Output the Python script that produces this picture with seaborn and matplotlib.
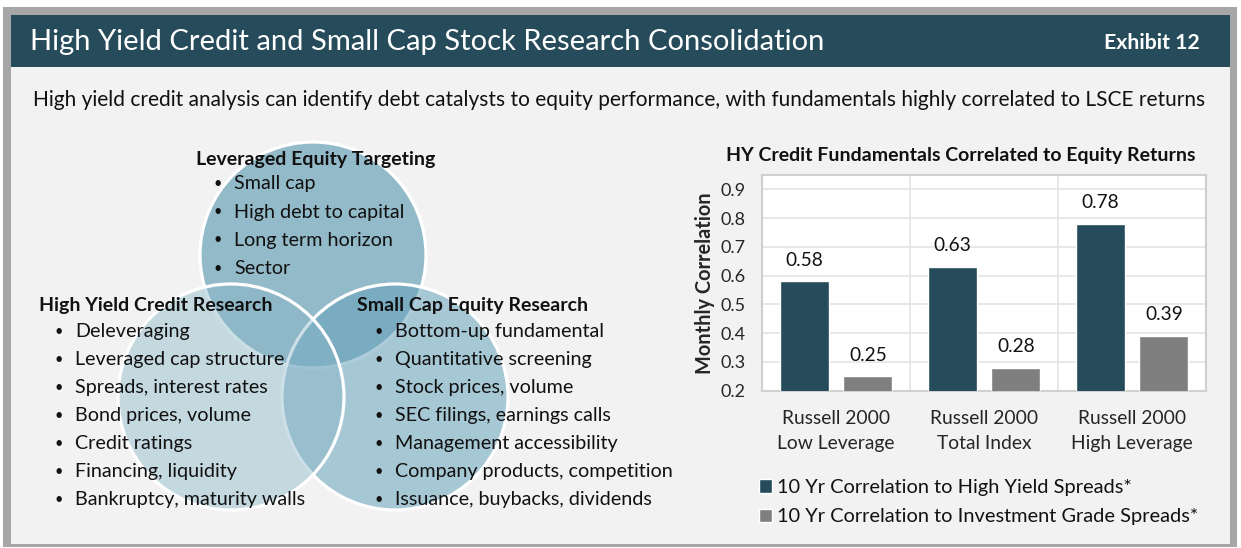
import pandas as pd
import matplotlib.pyplot as plt
import seaborn as sns
from matplotlib.patches import Rectangle, Circle

# Data
categories = ["Russell 2000\nLow Leverage", "Russell 2000\nTotal Index", "Russell 2000\nHigh Leverage"]
series_names = ["10 Yr Correlation to High Yield Spreads*",
                "10 Yr Correlation to Investment Grade Spreads*"]
hy_corr = [0.58, 0.63, 0.78]
ig_corr = [0.25, 0.28, 0.39]
y_ticks = [0.2, 0.3, 0.4, 0.5, 0.6, 0.7, 0.8, 0.9]

title = "High Yield Credit and Small Cap Stock Research Consolidation"
exhibit = "Exhibit 12"
subtitle = ("High yield credit analysis can identify debt catalysts to equity performance, "
            "with fundamentals highly correlated to LSCE returns")
chart_title = "HY Credit Fundamentals Correlated to Equity Returns"

venn_titles = ["Leveraged Equity Targeting", "High Yield Credit Research", "Small Cap Equity Research"]
targeting_items = ["Small cap", "High debt to capital", "Long term horizon", "Sector"]
credit_items = ["Deleveraging", "Leveraged cap structure", "Spreads, interest rates",
                "Bond prices, volume", "Credit ratings", "Financing, liquidity",
                "Bankruptcy, maturity walls"]
equity_items = ["Bottom-up fundamental", "Quantitative screening", "Stock prices, volume",
                "SEC filings, earnings calls", "Management accessibility",
                "Company products, competition", "Issuance, buybacks, dividends"]

df = pd.DataFrame({
    "category": categories * 2,
    "series": [series_names[0]] * 3 + [series_names[1]] * 3,
    "value": hy_corr + ig_corr,
})

DARK = "#264b5a"
GRAY = "#7f7f7f"
BG = "#f2f2f2"

sns.set_theme(style="white")
plt.rcParams["font.family"] = ["Lato", "DejaVu Sans"]
plt.rcParams["text.color"] = "#111111"

W, H = 1241, 548
fig = plt.figure(figsize=(W / 100, H / 100), dpi=100)
fig.patch.set_facecolor("white")

# background canvas in pixel coordinates
bg = fig.add_axes([0, 0, 1, 1], zorder=0)
bg.set_xlim(0, W)
bg.set_ylim(H, 0)
bg.axis("off")

bg.add_patch(Rectangle((3, 7), 1234, 540, fc="#a6a6a6", ec="none"))
bg.add_patch(Rectangle((11, 15), 1219, 529, fc=BG, ec="none"))
bg.add_patch(Rectangle((11, 15), 1219, 52, fc=DARK, ec="none"))

bg.text(30, 42, title, color="white", fontsize=21, va="center", ha="left")
bg.text(1200, 43, exhibit, color="white", fontsize=15.3, fontweight="bold", va="center", ha="right")
bg.text(33, 100, subtitle, fontsize=15, va="center", ha="left")

# venn circles
r = 113
bg.add_patch(Circle((313, 255), r, fc="#93bac9", ec="white", lw=2.3))
bg.add_patch(Circle((395, 397), r, fc=(100 / 255, 161 / 255, 186 / 255, 0.53), ec="white", lw=2.3))
bg.add_patch(Circle((231, 397), r, fc=(137 / 255, 182 / 255, 200 / 255, 0.43), ec="white", lw=2.3))

bg.text(316, 159, venn_titles[0], fontsize=14, fontweight="bold", ha="center", va="center")
bg.text(39, 305, venn_titles[1], fontsize=14, fontweight="bold", ha="left", va="center")
bg.text(357, 305, venn_titles[2], fontsize=14, fontweight="bold", ha="left", va="center")

def bullets(items, x, y0, step):
    for i, item in enumerate(items):
        y = y0 + i * step
        bg.text(x, y, "\u2022", fontsize=10.5, ha="center", va="center")
        bg.text(x + 16, y, item, fontsize=14.2, ha="left", va="center")

bullets(targeting_items, 218, 184, 28.2)
bullets(credit_items, 59, 332, 28.0)
bullets(equity_items, 379, 332, 28.0)

# bar chart
ax = fig.add_axes([762 / W, 1 - 390.5 / H, 444 / W, 215.5 / H], zorder=2)
sns.barplot(data=df, x="category", y="value", hue="series", palette=[DARK, GRAY],
            width=0.86, gap=0.23, saturation=1, ax=ax, zorder=3)
ax.set_facecolor("white")
ax.set_ylim(0.2, 0.95)
ax.set_yticks(y_ticks)
ax.set_yticklabels([f"{v:.1f}" for v in y_ticks])
ax.yaxis.grid(True, color="#e4e4e4", lw=1.2, zorder=0)
for xv in [0.5, 1.5]:
    ax.axvline(xv, color="#e4e4e4", lw=1.2, zorder=0)
for s in ax.spines.values():
    s.set_visible(True)
    s.set_color("#d0d0d0")
    s.set_linewidth(1.5)
ax.tick_params(axis="y", length=0, pad=12, labelsize=13)
ax.tick_params(axis="x", length=0, pad=14, labelsize=13.9)
for lab in ax.get_xticklabels():
    lab.set_linespacing(1.55)
ax.set_xlabel("")
ax.set_ylabel("Monthly Correlation", fontsize=14.4, fontweight="bold", labelpad=4)

for cont in ax.containers:
    ax.bar_label(cont, fmt="%.2f", padding=9, fontsize=13.8)

handles, labels = ax.get_legend_handles_labels()
ax.legend(handles, labels, loc="upper left", bbox_to_anchor=(759 / W, 1 - 479 / H),
          bbox_transform=fig.transFigure, frameon=False, fontsize=14.4,
          handlelength=0.65, handleheight=0.65, handletextpad=0.25, labelspacing=0.62,
          borderaxespad=0, borderpad=0)

fig.text(961 / W, 1 - 155 / H, chart_title, fontsize=14, fontweight="bold", ha="center", va="center")

fig.savefig("out.png", dpi=100)
